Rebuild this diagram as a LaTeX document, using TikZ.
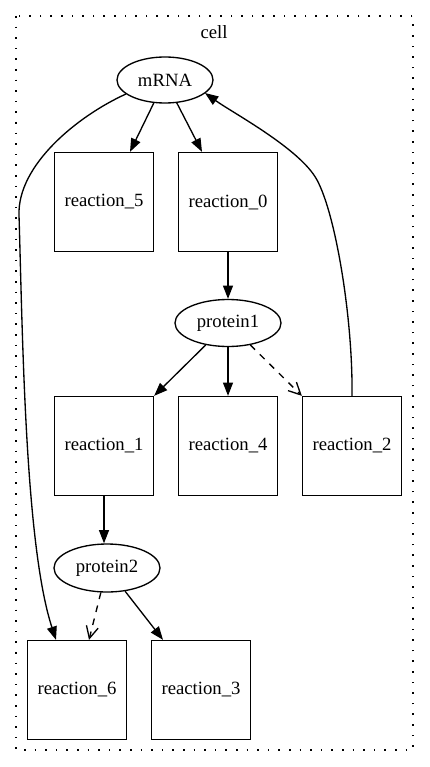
\documentclass[tikz,border=0pt]{standalone}
\usepackage{fontspec}
\setmainfont{Liberation Serif}
\usetikzlibrary{shapes.geometric,arrows.meta}
\begin{document}
\begin{tikzpicture}[x=1pt,y=-1pt,
  every node/.style={font=\fontsize{18.7}{22}\selectfont},
  box/.style={draw, line width=1.33pt, minimum size=99pt, inner sep=0pt},
  oval/.style={draw, ellipse, line width=1.33pt, inner sep=0pt},
  arr/.style={line width=1.33pt, -{Triangle[length=13.3pt,width=10pt]}},
  darr/.style={line width=1.33pt, dash pattern=on 6.7pt off 6.7pt, -{Straight Barb[length=12pt,width=12pt]}},
  clusterbox/.style={line width=1.33pt, dash pattern=on 1.6pt off 9pt},
]
\useasboundingbox (0,0) rectangle (429,767);
\draw[clusterbox] (16,16) rectangle (413,750);
\node (celllabel) at (214,32) {cell};

\node[oval, minimum width=96pt, minimum height=46pt] (mRNA) at (165,80) {mRNA};
\node[box] (r5) at (104,202) {reaction\_5};
\node[box] (r0) at (228,202) {reaction\_0};
\node[oval, minimum width=106pt, minimum height=47pt] (p1) at (228,323) {protein1};
\node[box] (r1) at (104,446) {reaction\_1};
\node[box] (r4) at (228,446) {reaction\_4};
\node[box] (r2) at (352,446) {reaction\_2};
\node[oval, minimum width=106pt, minimum height=48pt] (p2) at (107,568) {protein2};
\node[box] (r6) at (77,690) {reaction\_6};
\node[box] (r3) at (201,690) {reaction\_3};

\coordinate (bendR) at (317,180);
\coordinate (bendL) at (19,215);

\draw[arr] (mRNA) -- ([xshift=26pt]r5.north);
\draw[arr] (mRNA) -- ([xshift=-26pt]r0.north);
\draw[arr] (r0) -- (p1);
\draw[arr] (p1) -- (r1.north east);
\draw[arr] (p1) -- (r4);
\draw[darr] (p1) -- (r2.north west);
\draw[arr] (r2.north) .. controls (353,320) and (336,215) .. (bendR)
  .. controls (300.5,149) and (233,113) .. ([shift={(40,13)}]mRNA.center);
\draw[arr] ([shift={(-39,14)}]mRNA.center) .. controls (77.5,116) and (17.5,165) .. (bendL)
  .. controls (22.6,335) and (25,545) .. ([xshift=-21pt]r6.north);
\draw[arr] (r1.south) -- (r1.south |- p2.north);
\draw[darr] (p2) -- ([xshift=12pt]r6.north);
\draw[arr] (p2) -- ([xshift=-38pt]r3.north);
\end{tikzpicture}
\end{document}
